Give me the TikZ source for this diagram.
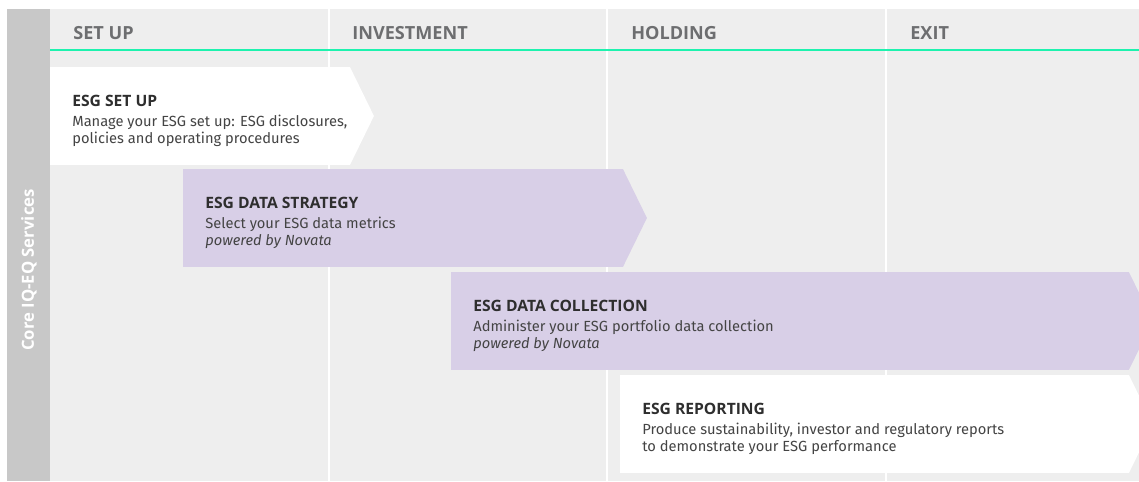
\documentclass[tikz,border=0pt]{standalone}
\usepackage{fontspec}
\setmainfont{Fira Sans}
\newfontfamily\headfont{Open Sans}
\usetikzlibrary{positioning}

\definecolor{panelgray}{HTML}{EEEEEE}
\definecolor{sidegray}{HTML}{C8C8C8}
\definecolor{mint}{HTML}{1DF2AE}
\definecolor{lilac}{HTML}{D8CFE7}
\definecolor{headgray}{HTML}{6D6E70}
\definecolor{inkgray}{HTML}{444444}
\definecolor{titleink}{HTML}{2E2E2E}

\newcommand{\stagetitle}[1]{{\headfont\bfseries\color{titleink}\fontsize{8.9}{9.7}\selectfont#1}}

\begin{document}
\begin{tikzpicture}[x=0.02cm,y=-0.02cm,
  stage/.style={fill=#1,anchor=north west,minimum height=1.96cm,inner sep=0pt,outer sep=0pt},
  stagetext/.style={anchor=west,align=left,text=inkgray,font=\fontsize{8.35}{9.7}\selectfont,inner sep=0pt,yshift=-0.1cm},
  phase/.style={anchor=base west,text=headgray,font=\headfont\bfseries\fontsize{10.3}{12}\selectfont,inner sep=0pt}]
  \useasboundingbox (0,0) rectangle (1139,481);
  \fill[panelgray] (7,9) rectangle (1139,481);
  \fill[sidegray] (7,9) rectangle (50,481);
  \foreach \x in {329,607,886} \draw[white,line width=0.04cm] (\x,9) -- (\x,481);
  \draw[mint,line width=0.05cm] (50,50) -- (1139,50);

  % phases
  \node[phase] (setupcol) at (73,39) {SET UP};
  \node[phase] (investcol) at (352,39) {INVESTMENT};
  \node[phase] (holdcol) at (631,39) {HOLDING};
  \node[phase] (exitcol) at (910,39) {EXIT};
  \node[rotate=90,text=white,font=\headfont\bfseries\fontsize{9.5}{11}\selectfont] (core) at (29,270) {Core IQ-EQ Services};

  % services
  \node[stage=white,minimum width=6cm] (setup) at (50,67) {};
  \node[stage=lilac,minimum width=8.8cm] (strategy) at (183,169) {};
  \node[stage=lilac,minimum width=13.56cm] (collection) at (451,272) {};
  \node[stage=white,minimum width=10.18cm] (reporting) at (620,375) {};
  \foreach \n/\c in {setup/white,strategy/lilac,collection/lilac,reporting/white}
    \fill[\c] (\n.north east) -- ([xshift=0.48cm]\n.east) -- (\n.south east) -- cycle;

  \node[stagetext,right=0.44cm of setup.west] (setuptext)
    {\stagetitle{ESG SET UP}\\[1.6pt]Manage your ESG set up: ESG disclosures,\\policies and operating procedures};
  \node[stagetext,right=0.44cm of strategy.west] (strategytext)
    {\stagetitle{ESG DATA STRATEGY}\\[1.6pt]Select your ESG data metrics\\\textit{powered by Novata}};
  \node[stagetext,right=0.44cm of collection.west] (collectiontext)
    {\stagetitle{ESG DATA COLLECTION}\\[1.6pt]Administer your ESG portfolio data collection\\\textit{powered by Novata}};
  \node[stagetext,right=0.44cm of reporting.west] (reportingtext)
    {\stagetitle{ESG REPORTING}\\[1.6pt]Produce sustainability, investor and regulatory reports\\to demonstrate your ESG performance};
\end{tikzpicture}
\end{document}
